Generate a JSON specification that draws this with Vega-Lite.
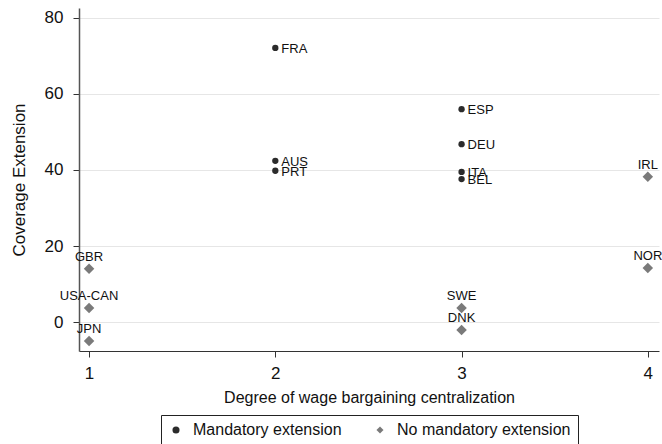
{
  "$schema": "https://vega.github.io/schema/vega-lite/v6.json",
  "autosize": "none",
  "width": 580,
  "height": 343,
  "padding": {"left": 79, "top": 8, "right": 3, "bottom": 93},
  "background": "white",
  "config": {
    "font": "Liberation Sans",
    "view": {"stroke": null},
    "axis": {"labelFont": "Liberation Sans", "titleFont": "Liberation Sans", "labelColor": "#111", "titleColor": "#111", "titleFontWeight": "normal"}
  },
  "data": {
    "values": [
      {"country": "FRA", "x": 2, "y": 72.1, "group": "Mandatory extension"},
      {"country": "AUS", "x": 2, "y": 42.4, "group": "Mandatory extension"},
      {"country": "PRT", "x": 2, "y": 39.8, "group": "Mandatory extension"},
      {"country": "ESP", "x": 3, "y": 56.0, "group": "Mandatory extension"},
      {"country": "DEU", "x": 3, "y": 46.8, "group": "Mandatory extension"},
      {"country": "ITA", "x": 3, "y": 39.5, "group": "Mandatory extension"},
      {"country": "BEL", "x": 3, "y": 37.6, "group": "Mandatory extension"},
      {"country": "IRL", "x": 4, "y": 38.2, "group": "No mandatory extension"},
      {"country": "GBR", "x": 1, "y": 14.0, "group": "No mandatory extension"},
      {"country": "USA-CAN", "x": 1, "y": 3.7, "group": "No mandatory extension"},
      {"country": "JPN", "x": 1, "y": -5.0, "group": "No mandatory extension"},
      {"country": "NOR", "x": 4, "y": 14.2, "group": "No mandatory extension"},
      {"country": "SWE", "x": 3, "y": 3.7, "group": "No mandatory extension"},
      {"country": "DNK", "x": 3, "y": -2.1, "group": "No mandatory extension"}
    ]
  },
  "encoding": {
    "x": {
      "field": "x", "type": "quantitative",
      "scale": {"domain": [0.946, 4.06], "nice": false, "zero": false},
      "axis": {"values": [1, 2, 3, 4], "title": "Degree of wage bargaining centralization", "grid": false, "domainColor": "#333", "tickColor": "#333", "tickSize": 6, "labelFontSize": 17, "titleFontSize": 16, "labelPadding": 8, "titlePadding": 8}
    },
    "y": {
      "field": "y", "type": "quantitative",
      "scale": {"domain": [-7.6, 82.6], "nice": false, "zero": false},
      "axis": {"values": [0, 20, 40, 60, 80], "title": "Coverage Extension", "grid": true, "gridColor": "#e6e6e6", "domainColor": "#555", "domainWidth": 1.5, "tickColor": "#333", "tickSize": 6, "labelFontSize": 17, "titleFontSize": 17, "labelPadding": 10, "titlePadding": 16}
    },
    "shape": {"field": "group", "type": "nominal", "scale": {"domain": ["Mandatory extension", "No mandatory extension"], "range": ["circle", "diamond"]},
      "legend": {"title": null, "orient": "none", "legendX": 82, "legendY": 407, "direction": "horizontal", "strokeColor": "#222", "padding": 7, "labelFontSize": 16, "labelColor": "#111", "labelLimit": 400, "symbolOpacity": 1, "columnPadding": 30, "labelOffset": 9, "symbolSize": 50}},
    "color": {"field": "group", "type": "nominal", "scale": {"domain": ["Mandatory extension", "No mandatory extension"], "range": ["#2b2b2b", "#7a7a7a"]}}
  },
  "layer": [
    {
      "transform": [{"filter": "datum.group === 'Mandatory extension'"}],
      "mark": {"type": "point", "filled": true, "opacity": 1, "size": 40}
    },
    {
      "transform": [{"filter": "datum.group === 'No mandatory extension'"}],
      "mark": {"type": "point", "filled": true, "opacity": 1, "size": 110}
    },
    {
      "transform": [{"filter": "datum.group === 'Mandatory extension'"}],
      "mark": {"type": "text", "align": "left", "baseline": "middle", "dx": 6, "dy": 1, "fontSize": 13, "color": "#111"},
      "encoding": {"text": {"field": "country"}, "shape": null, "color": null}
    },
    {
      "transform": [{"filter": "datum.group === 'No mandatory extension'"}],
      "mark": {"type": "text", "align": "center", "baseline": "bottom", "dy": -5, "fontSize": 13, "color": "#111"},
      "encoding": {"text": {"field": "country"}, "shape": null, "color": null}
    }
  ]
}
